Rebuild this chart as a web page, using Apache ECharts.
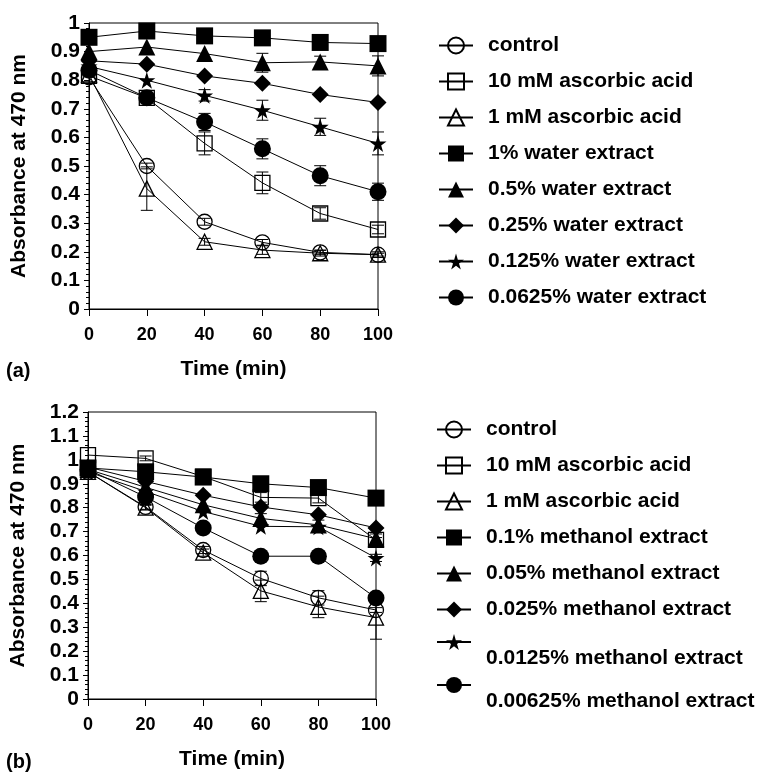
<!DOCTYPE html>
<html>
<head>
<meta charset="utf-8">
<script src="https://cdn.jsdelivr.net/npm/echarts@6/dist/echarts.min.js"></script>
<style>
html, body { margin: 0; padding: 0; background: #fff; }
#chart { width: 758px; height: 772px; }
</style>
</head>
<body>
<div id="chart"></div>
<script>
// sampling times (min)
const times = [0, 20, 40, 60, 80, 100]

// (a) water extract
const namesA = ['control', '10 mM ascorbic acid', '1 mM ascorbic acid', '1% water extract',
  '0.5% water extract', '0.25% water extract', '0.125% water extract', '0.0625% water extract']
const controlA = [0.81, 0.50, 0.305, 0.233, 0.198, 0.19]
const asc10A = [0.815, 0.738, 0.579, 0.441, 0.334, 0.278]
const asc1A = [0.82, 0.421, 0.235, 0.206, 0.195, 0.19]
const water1 = [0.95, 0.972, 0.955, 0.948, 0.932, 0.928]
const water05 = [0.90, 0.916, 0.893, 0.861, 0.864, 0.85]
const water025 = [0.868, 0.856, 0.815, 0.789, 0.75, 0.722]
const water0125 = [0.848, 0.80, 0.747, 0.695, 0.637, 0.579]
const water00625 = [0.835, 0.739, 0.654, 0.56, 0.466, 0.41]
// error bars (+/-)
const errControlA = [0, 0.01, 0.012, 0.01, 0.008, 0.005]
const errAsc10A = [0, 0.01, 0.04, 0.038, 0.02, 0.015]
const errAsc1A = [0, 0.076, 0.012, 0.015, 0.01, 0.01]
const errWater1 = [0, 0, 0, 0, 0.01, 0]
const errWater05 = [0, 0, 0, 0.033, 0.02, 0.035]
const errWater025 = [0, 0, 0, 0, 0, 0]
const errWater0125 = [0, 0, 0.02, 0.035, 0.03, 0.04]
const errWater00625 = [0, 0, 0.03, 0.035, 0.035, 0.03]

// (b) methanol extract
const namesB = ['control', '10 mM ascorbic acid', '1 mM ascorbic acid', '0.1% methanol extract',
  '0.05% methanol extract', '0.025% methanol extract', '0.0125% methanol extract', '0.00625% methanol extract']
const controlB = [0.95, 0.803, 0.623, 0.504, 0.423, 0.372]
const asc10B = [1.02, 1.006, 0.93, 0.843, 0.84, 0.665]
const asc1B = [0.95, 0.80, 0.612, 0.452, 0.385, 0.34]
const meth01 = [0.966, 0.95, 0.928, 0.9, 0.884, 0.84]
const meth005 = [0.96, 0.885, 0.812, 0.755, 0.728, 0.67]
const meth0025 = [0.97, 0.91, 0.852, 0.803, 0.77, 0.715]
const meth00125 = [0.95, 0.868, 0.784, 0.722, 0.72, 0.59]
const meth000625 = [0.96, 0.845, 0.715, 0.597, 0.597, 0.422]
const errControlB = [0, 0.01, 0.015, 0.03, 0.03, 0.01]
const errAsc10B = [0, 0.01, 0.01, 0.02, 0.02, 0.01]
const errAsc1B = [0, 0.01, 0.015, 0.045, 0.045, 0.09]
const errMeth01 = [0, 0, 0, 0, 0, 0]
const errMeth005 = [0, 0, 0, 0.02, 0.02, 0.02]
const errMeth0025 = [0, 0, 0, 0, 0, 0]
const errMeth00125 = [0, 0, 0, 0, 0, 0.015]
const errMeth000625 = [0, 0, 0, 0, 0, 0]

const valuesA = [controlA, asc10A, asc1A, water1, water05, water025, water0125, water00625]
const errorsA = [errControlA, errAsc10A, errAsc1A, errWater1, errWater05, errWater025, errWater0125, errWater00625]
const valuesB = [controlB, asc10B, asc1B, meth01, meth005, meth0025, meth00125, meth000625]
const errorsB = [errControlB, errAsc10B, errAsc1B, errMeth01, errMeth005, errMeth0025, errMeth00125, errMeth000625]

const FONT = 'Liberation Sans'
const star = 'path://M50,0 L61,35 L98,35 L68,57 L79,91 L50,70 L21,91 L32,57 L2,35 L39,35 Z'
// marker per series position: symbol, filled?
const markers = [
  ['circle', false], ['rect', false], ['triangle', false], ['rect', true],
  ['triangle', true], ['diamond', true], [star, true], ['circle', true]
]

function lineSeries(names, values, idx) {
  return values.map((vals, s) => ({
    name: names[s],
    type: 'line',
    xAxisIndex: idx,
    yAxisIndex: idx,
    data: times.map((t, i) => [t, vals[i]]),
    symbol: markers[s][0],
    symbolSize: markers[s][1] ? 17 : 15,
    itemStyle: markers[s][1]
      ? { color: '#000', borderWidth: 0 }
      : { color: 'rgba(255,255,255,0)', borderColor: '#000', borderWidth: 1.3 },
    lineStyle: { color: '#000', width: 1 },
    emphasis: { disabled: true },
    clip: false,
    z: 2
  }))
}

function errorSeries(values, errs, idx) {
  const data = []
  values.forEach((vals, s) => vals.forEach((v, i) => {
    if (errs[s][i] > 0) data.push([times[i], v - errs[s][i], v + errs[s][i]])
  }))
  return {
    type: 'custom',
    xAxisIndex: idx,
    yAxisIndex: idx,
    silent: true,
    z: 3,
    clip: false,
    encode: { x: 0, y: [1, 2] },
    data,
    renderItem(params, api) {
      const x = api.value(0)
      const lo = api.coord([x, api.value(1)])
      const hi = api.coord([x, api.value(2)])
      const w = 6
      const st = { stroke: '#000', lineWidth: 1 }
      return {
        type: 'group',
        children: [
          { type: 'line', shape: { x1: lo[0], y1: lo[1], x2: hi[0], y2: hi[1] }, style: st },
          { type: 'line', shape: { x1: lo[0] - w, y1: lo[1], x2: lo[0] + w, y2: lo[1] }, style: st },
          { type: 'line', shape: { x1: hi[0] - w, y1: hi[1], x2: hi[0] + w, y2: hi[1] }, style: st }
        ]
      }
    }
  }
}

function xAxis(idx) {
  return {
    type: 'value', gridIndex: idx, min: 0, max: 100, interval: 20,
    name: 'Time (min)', nameLocation: 'middle', nameGap: 50,
    nameTextStyle: { fontFamily: FONT, fontWeight: 'bold', fontSize: 21, color: '#000' },
    axisLine: { lineStyle: { color: '#000', width: 1 } },
    axisTick: { length: 7, lineStyle: { color: '#000' } },
    axisLabel: { margin: 17, fontFamily: FONT, fontWeight: 'bold', fontSize: 18, color: '#000' },
    splitLine: { show: false }
  }
}

function yAxis(idx, max) {
  return {
    type: 'value', gridIndex: idx, min: 0, max: max, interval: 0.1,
    name: 'Absorbance at 470 nm', nameLocation: 'middle', nameGap: 59, nameRotate: 90,
    nameTextStyle: { fontFamily: FONT, fontWeight: 'bold', fontSize: 21, color: '#000' },
    axisLine: { show: true, lineStyle: { color: '#000', width: 1 } },
    axisTick: { show: true, length: 5, lineStyle: { color: '#000' } },
    minorTick: { show: true, splitNumber: 5, length: 3, lineStyle: { color: '#000' } },
    axisLabel: { margin: 9, fontFamily: FONT, fontWeight: 'bold', fontSize: 21, color: '#000' },
    splitLine: { show: false },
    minorSplitLine: { show: false }
  }
}

const legendText = { fontFamily: FONT, fontWeight: 'bold', fontSize: 21, color: '#000', padding: [0, 0, 0, 10] }
const legendBase = {
  orient: 'vertical', itemWidth: 34, itemHeight: 20, itemGap: 15, padding: 0,
  selectedMode: false, textStyle: legendText
}
// last two items of (b): text sits a line lower than the symbol
const lowText = Object.assign({}, legendText, { lineHeight: 32 })
const lowFormatter = name => '\n' + name

const chart = echarts.init(document.getElementById('chart'))
chart.setOption({
  animation: false,
  backgroundColor: '#fff',
  grid: [
    { left: 89, top: 23, width: 289, height: 286, show: true, borderColor: '#000', borderWidth: 1, backgroundColor: 'transparent' },
    { left: 88, top: 412, width: 288, height: 287, show: true, borderColor: '#000', borderWidth: 1, backgroundColor: 'transparent' }
  ],
  xAxis: [xAxis(0), xAxis(1)],
  yAxis: [yAxis(0, 1), yAxis(1, 1.2)],
  legend: [
    Object.assign({}, legendBase, { left: 438, top: 35, data: namesA }),
    Object.assign({}, legendBase, { left: 436, top: 419, data: namesB.slice(0, 6) }),
    Object.assign({}, legendBase, { left: 436, top: 610, data: [namesB[6]], textStyle: lowText, formatter: lowFormatter }),
    Object.assign({}, legendBase, { left: 436, top: 653, data: [namesB[7]], textStyle: lowText, formatter: lowFormatter })
  ],
  graphic: [
    { type: 'text', left: 6, top: 361, style: { text: '(a)', font: 'bold 20px "Liberation Sans"', fill: '#000' } },
    { type: 'text', left: 6, top: 752, style: { text: '(b)', font: 'bold 20px "Liberation Sans"', fill: '#000' } }
  ],
  series: [
    ...lineSeries(namesA, valuesA, 0),
    errorSeries(valuesA, errorsA, 0),
    ...lineSeries(namesB, valuesB, 1),
    errorSeries(valuesB, errorsB, 1)
  ]
})
</script>
</body>
</html>
